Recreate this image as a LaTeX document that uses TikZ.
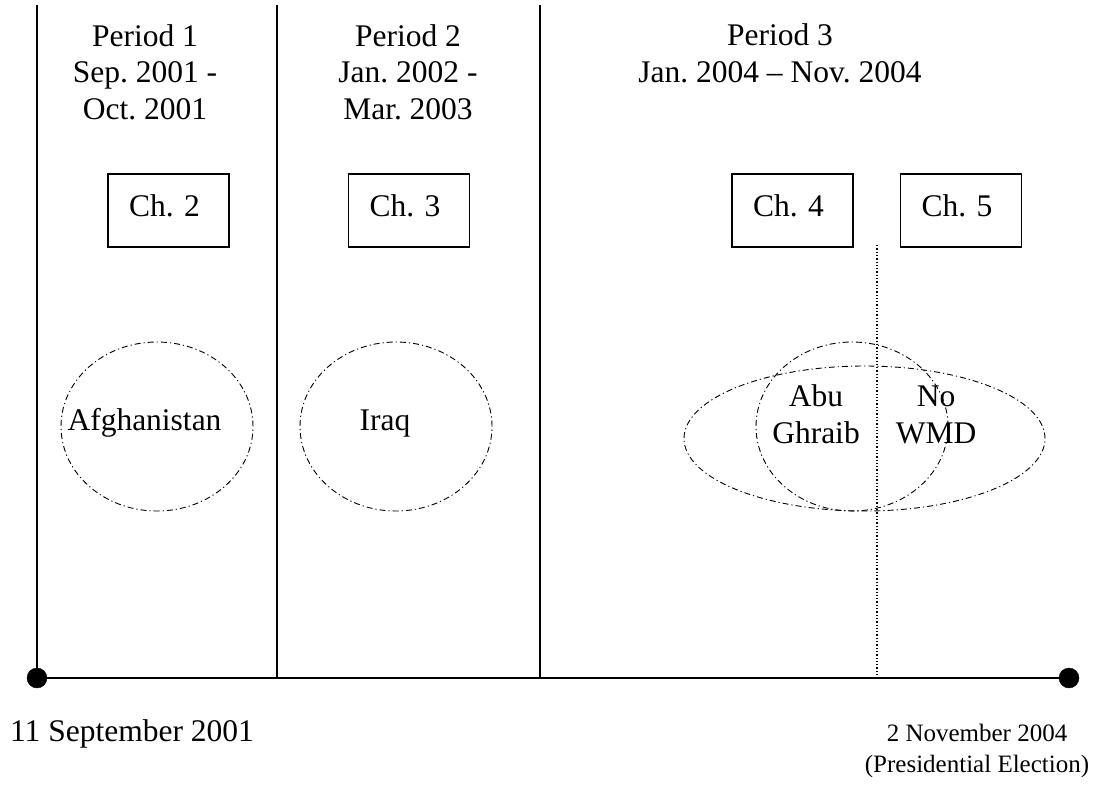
\documentclass[tikz,border=0pt]{standalone}
\usepackage{fontspec}
\setmainfont{Liberation Serif}
\usepackage{tikz}
\usetikzlibrary{shapes.geometric}
\usetikzlibrary{positioning}
\frenchspacing
\tikzset{
  lbl/.style = {inner sep=0pt, align=center, anchor=base},% base = last line
  tl_dot/.style = {circle, fill=black, draw=black, inner sep=0pt,
    minimum size=20pt},% end of the time line
  tl_line/.style = {draw=black, line width=1.7pt},
  ch_box/.style = {rectangle, draw=black, line width=1.6pt, inner xsep=21pt,
    inner ysep=0pt, text width=79pt, align=left, text height=42pt,
    text depth=31pt},% chapter box
  ev_ell/.style = {ellipse, draw=black, line width=0.9pt, inner sep=0pt,
    dash pattern=on 6pt off 3pt on 1.2pt off 3pt}% event
}

\begin{document}
\begin{tikzpicture}[x=1pt,y=-1pt,font=\fontsize{31.5pt}{36.5pt}\selectfont]
\useasboundingbox (0,0) rectangle (1099,784);

% time line
\node [tl_dot] (s) at (37,678) {};
\node [tl_dot] (e) at (1069,678) {};
\coordinate (b12) at (277,678);
\coordinate (b23) at (540,678);
\coordinate (el) at (877,678);
\coordinate (s_top) at (37,5);
\coordinate (b12_top) at (277,5);
\coordinate (b23_top) at (540,5);
\coordinate (el_top) at (877,245);
\draw [tl_line] (s) -- (e);
\draw [tl_line] (s_top) -- (s);
\draw [tl_line] (b12_top) -- (b12);
\draw [tl_line] (b23_top) -- (b23);
\draw [line width=1.3pt, dotted] (el_top) -- (el);

% periods
\node [lbl] (p1) at (145,119) {Period 1\\Sep. 2001 -\\Oct. 2001};
\node [lbl] (p2) at (408,119) {Period 2\\Jan. 2002 -\\Mar. 2003};
\node [lbl] (p3) at (780,82) {Period 3\\Jan. 2004 -- Nov. 2004};

% chapters
\node [ch_box] (c2) at (168.5,210.5) {Ch. 2};
\node [ch_box] (c3) at (409,210.5) {Ch. 3};
\node [ch_box] (c4) at (792.5,210.5) {Ch. 4};
\node [ch_box] (c5) at (961,210.5) {Ch. 5};

% events
\node [ev_ell, minimum width=192pt, minimum height=169pt] (af) at (157,426.5) {};
\node [ev_ell, minimum width=192pt, minimum height=169pt] (iq) at (396,426.5) {};
\node [ev_ell, minimum width=361pt, minimum height=145pt] (wmd) at (864.5,438.5) {};
\node [ev_ell, minimum width=192pt, minimum height=169pt] (ag) at (852,426.5) {};
\node [lbl] at (144.5,430) {Afghanistan};
\node [lbl] at (385,430) {Iraq};
\node [lbl] at (816,443) {Abu\\Ghraib};
\node [lbl] at (936,443) {No\\WMD};

% dates
\node [lbl] (d1) at (132,741) {11 September 2001};
\node [lbl, font=\fontsize{25pt}{31pt}\selectfont] (d2) at (977,772)
  {2 November 2004\\(Presidential Election)};
\end{tikzpicture}
\end{document}
